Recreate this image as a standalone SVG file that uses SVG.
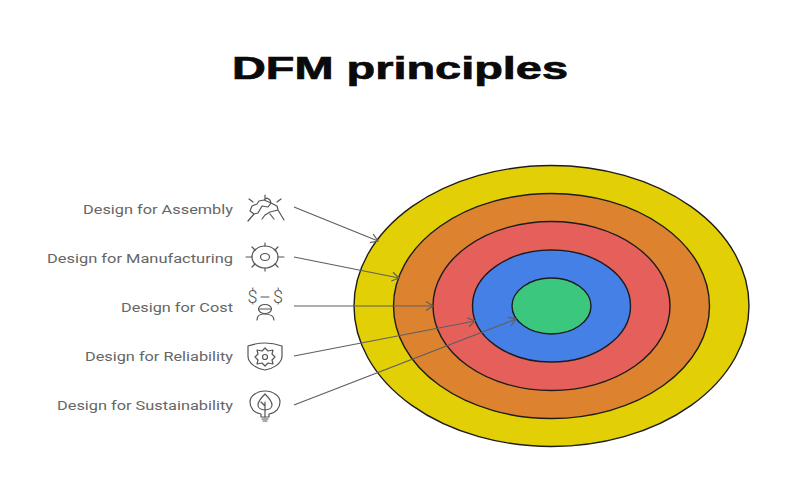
<svg xmlns="http://www.w3.org/2000/svg" width="800" height="500" viewBox="0 0 800 500">
<style>
.lbl{font-family:Roboto,"Liberation Sans",sans-serif;font-size:13.2px;fill:#666}
.dollar{font-family:Roboto,"Liberation Sans",sans-serif;font-weight:300;font-size:18px;fill:#555;text-anchor:middle}
.ring{stroke:#1c1c1c;stroke-width:1.4}
.ic{fill:none;stroke:#555;stroke-width:1.2;stroke-linecap:round;stroke-linejoin:round}
.con{fill:none;stroke:#5f5f5f;stroke-width:1.2;marker-end:url(#a)}
</style>
<defs><marker id="a" markerUnits="userSpaceOnUse" markerWidth="12" markerHeight="12" refX="9" refY="6" orient="auto"><path d="M2 1.500L9 6L2 10.500" fill="none" stroke="#5f5f5f" stroke-width="1.2"/></marker></defs>
<rect width="800" height="500" fill="#fff"/>
<text id="title" x="232" y="78.500" font-family="'Liberation Sans',Arial,sans-serif" font-weight="700" font-size="31" fill="#0a0a0a" textLength="336" lengthAdjust="spacingAndGlyphs" stroke="#0a0a0a" stroke-width=".7">DFM principles</text>
<g id="ring-yellow"><ellipse class="ring" cx="551.500" cy="306" rx="197.500" ry="140.500" fill="#e2cf05"/></g>
<g id="ring-orange"><ellipse class="ring" cx="551.500" cy="306" rx="158" ry="112.500" fill="#dd8330"/></g>
<g id="ring-red"><ellipse class="ring" cx="551.500" cy="306" rx="118.500" ry="84.500" fill="#e55f5b"/></g>
<g id="ring-blue"><ellipse class="ring" cx="551.500" cy="306" rx="79" ry="56" fill="#4580e6"/></g>
<g id="ring-green"><ellipse class="ring" cx="551.500" cy="306" rx="39.500" ry="28" fill="#3cc77f"/></g>
<g id="connectors">
<path class="con" d="M294 207L378 241"/>
<path class="con" d="M294 257L399 278"/>
<path class="con" d="M294 306L433 306"/>
<path class="con" d="M294 356L475 321"/>
<path class="con" d="M294 405L516 319"/>
</g>
<g id="node-assembly"><text class="lbl" x="83" y="213.500" textLength="150" lengthAdjust="spacingAndGlyphs">Design for Assembly</text>
<path class="ic" d="M265 195V199M249 199L253 202M281 199L277 202M248 221L254 214M252 206L257 204L259 201L264 200L271 203L268 207L262 206L258 213L254 214L250 211Z M264 200L267 198L270 200L271 203M271 203L277 206L278 210L270 212L265 215M265 215L262 219M270 214L274 219M278 210L284 220"/></g>
<g id="node-manufacturing"><text class="lbl" x="47" y="262.500" textLength="186" lengthAdjust="spacingAndGlyphs">Design for Manufacturing</text>
<ellipse class="ic" cx="265" cy="257" rx="13" ry="11"/><ellipse class="ic" cx="265" cy="257" rx="4.500" ry="3.500"/>
<path class="ic" d="M246 257H252M278 257H284M265 243V246M265 268V271M252 247L255 250M278 247L275 250M252 267L255 264M278 267L275 264"/></g>
<g id="node-cost"><text class="lbl" x="121" y="311.500" textLength="112" lengthAdjust="spacingAndGlyphs">Design for Cost</text>
<text class="dollar" x="252.500" y="303">$</text><text class="dollar" x="278" y="303">$</text>
<path class="ic" d="M261 297H269"/><ellipse class="ic" cx="265" cy="309" rx="6.500" ry="4.500"/><path class="ic" d="M259 309H271M257 320C257 315 261 314 264 314C269 314 274 315 274 320"/></g>
<g id="node-reliability"><text class="lbl" x="85" y="360.500" textLength="148" lengthAdjust="spacingAndGlyphs">Design for Reliability</text>
<path class="ic" d="M248 346Q265 340 282 346V356C282 364 272 369 265 370C258 369 248 364 248 356Z"/>
<path class="ic" d="M265 348L268 351L273 350L272 354L275 357L272 360L273 364L268 363L265 366L262 363L257 364L258 360L255 357L258 354L257 350L262 351Z"/><circle class="ic" cx="265" cy="357" r="2.500"/></g>
<g id="node-sustainability"><text class="lbl" x="57" y="409.500" textLength="176" lengthAdjust="spacingAndGlyphs">Design for Sustainability</text>
<path class="ic" d="M261 414C254 413 250 408 250 402C250 396 257 391 265 391C273 391 280 396 280 402C280 408 276 413 269 414V417H261Z"/>
<path class="ic" d="M265 394C261 398 258 401 258 405C258 408 261 410 265 410C269 410 272 408 272 405C272 401 269 398 265 394ZM265 402V417M261 402L265 406M262 419H268M263 421H267"/></g>
</svg>
